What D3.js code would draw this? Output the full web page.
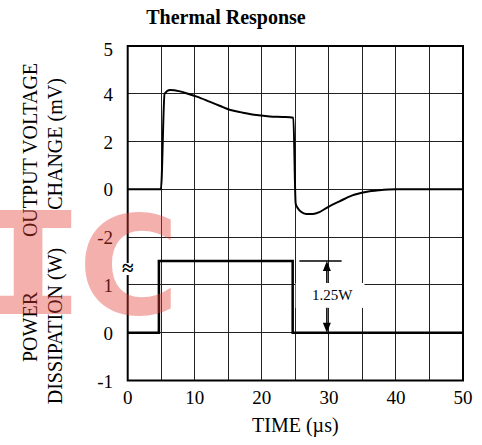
<!DOCTYPE html>
<html>
<head>
<meta charset="utf-8">
<script src="https://cdn.jsdelivr.net/npm/d3@7/dist/d3.min.js"></script>
<style>
  html, body { margin: 0; padding: 0; background: #fff; }
  svg { display: block; }
  text { font-family: "Liberation Serif", "Times New Roman", serif; fill: #000; }
</style>
</head>
<body>
<div id="chart"></div>
<script>
// ---------- data ----------
const title = "Thermal Response";
const xLabel = "TIME (µs)";
const xTickValues = [0, 10, 20, 30, 40, 50];
const voltageTicks = [5, 4, 2, 0, -2];          // mV (upper panel)
const powerTicks = [1, 0, -1];                   // W (lower panel)

// output voltage change (mV) vs time (µs)
const vTime  = [0, 4.95, 5.5, 6.3, 7.8, 9.3, 10.3, 12.2, 13.7, 15.2, 17.2, 19.2, 21.2, 23.1, 24.7,
                25.05, 25.4, 25.9, 26.6, 27.6, 28.6, 29.8, 31.6, 33.5, 35.5, 37.5, 40, 50];
const vValue = [0, 0, 4.0, 4.08, 4.05, 3.97, 3.88, 3.67, 3.5, 3.33, 3.21, 3.11, 3.05, 3.03, 3.0,
                -0.6, -0.8, -0.95, -1.03, -1.03, -0.95, -0.75, -0.5, -0.25, -0.11, -0.04, 0, 0];

// power dissipation (W) vs time (µs)
const pTime  = [0, 4.65, 4.65, 24.6, 24.6, 50];
const pValue = [0, 0, 1.25, 1.25, 0, 0];

const pulseLabel = "1.25W";
const pulseLevel = 1.25;

// ---------- layout ----------
const W = 482, H = 445;
const pLeft = 127.7, pRight = 463, pTop = 46, pBottom = 380.5;
const nRows = 7;

const svg = d3.select("#chart").append("svg").attr("width", W).attr("height", H);

const x = d3.scaleLinear().domain([0, 50]).range([pLeft, pRight]);
const row = d3.scaleLinear().domain([0, nRows]).range([pTop, pBottom]);
const step = row(1) - row(0);
// upper panel: voltage (break between 4 and 5 as printed)
const yV = d3.scaleLinear().domain([-2, 0, 4, 5]).range([row(4), row(3), row(1), row(0)]);
// lower panel: power (axis break above 1 W)
const yP = d3.scaleLinear().domain([-1, 0, 1, 1.25]).range([row(7), row(6), row(5), row(5) - step / 2]);

// ---------- grid ----------
const grid = svg.append("g").attr("stroke", "#222").attr("stroke-width", 1).attr("shape-rendering", "crispEdges");
grid.selectAll("line.v").data(x.ticks(10).filter(d => d > 0 && d < 50)).join("line")
  .attr("x1", d => x(d)).attr("x2", d => x(d)).attr("y1", pTop).attr("y2", pBottom);
grid.selectAll("line.h").data(d3.range(1, nRows)).join("line")
  .attr("x1", pLeft).attr("x2", pRight).attr("y1", d => row(d)).attr("y2", d => row(d));

// ---------- annotation (1.25W) ----------
const ann = svg.append("g");
const boxX0 = x(25.05), boxX1 = x(35.3), boxY0 = yP(1.02), boxY1 = yP(0.52);
ann.append("rect").attr("x", boxX0).attr("y", boxY0).attr("width", boxX1 - boxX0).attr("height", boxY1 - boxY0)
  .attr("fill", "#fff");
ann.append("line").attr("x1", x(25.6)).attr("x2", x(31.9)).attr("y1", yP(pulseLevel)).attr("y2", yP(pulseLevel))
  .attr("stroke", "#000").attr("stroke-width", 1.5);
const ax = x(29.7);
ann.append("line").attr("x1", ax).attr("x2", ax).attr("y1", yP(pulseLevel) + 8).attr("y2", boxY0)
  .attr("stroke", "#000").attr("stroke-width", 1.5);
ann.append("path").attr("d", `M${ax},${yP(pulseLevel)} l-4,10 l8,0 z`).attr("fill", "#000");
ann.append("line").attr("x1", ax).attr("x2", ax).attr("y1", boxY1).attr("y2", yP(0) - 8)
  .attr("stroke", "#000").attr("stroke-width", 1.5);
ann.append("path").attr("d", `M${ax},${yP(0)} l-4,-10 l8,0 z`).attr("fill", "#000");
ann.append("text").attr("x", x(30.5)).attr("y", yP(0.69)).attr("text-anchor", "middle")
  .attr("font-size", 15).text(pulseLabel);

// ---------- curves ----------
const vData = vTime.map((t, i) => [t, vValue[i]]);
const pData = pTime.map((t, i) => [t, pValue[i]]);

svg.append("path").datum(vData)
  .attr("d", d3.line().x(d => x(d[0])).y(d => yV(d[1])).curve(d3.curveMonotoneX))
  .attr("fill", "none").attr("stroke", "#000").attr("stroke-width", 2).attr("stroke-linejoin", "round");

svg.append("path").datum(pData)
  .attr("d", d3.line().x(d => x(d[0])).y(d => yP(d[1])))
  .attr("fill", "none").attr("stroke", "#000").attr("stroke-width", 2.5);

// ---------- frame ----------
svg.append("rect").attr("x", pLeft).attr("y", pTop).attr("width", pRight - pLeft).attr("height", pBottom - pTop)
  .attr("fill", "none").attr("stroke", "#000").attr("stroke-width", 2);

// axis break mark
svg.append("rect").attr("x", pLeft - 5).attr("y", yP(1.25) + 2).attr("width", 10).attr("height", 12).attr("fill", "#fff");
svg.append("text").attr("x", pLeft).attr("y", yP(1.25) + 14).attr("text-anchor", "middle")
  .attr("font-size", 21).attr("font-weight", "bold").text("≈");

// ---------- tick labels ----------
const tickFont = 19;
svg.append("g").selectAll("text").data(xTickValues).join("text")
  .attr("x", d => x(d)).attr("y", 404).attr("text-anchor", "middle").attr("font-size", tickFont).text(d => d);
svg.append("g").selectAll("text").data(voltageTicks).join("text")
  .attr("x", 113).attr("y", (d, i) => yV(d) + (i === 0 ? 10 : 7)).attr("text-anchor", "end")
  .attr("font-size", tickFont).text(d => d);
svg.append("g").selectAll("text").data(powerTicks).join("text")
  .attr("x", 113).attr("y", d => yP(d) + 7).attr("text-anchor", "end")
  .attr("font-size", tickFont).text(d => d);

// ---------- titles ----------
svg.append("text").attr("x", 226).attr("y", 24).attr("text-anchor", "middle")
  .attr("font-size", 20).attr("font-weight", "bold").text(title);
svg.append("text").attr("x", (pLeft + pRight) / 2).attr("y", 432).attr("text-anchor", "middle")
  .attr("font-size", 20).text(xLabel);

const yLabels = [
  { text: "OUTPUT VOLTAGE", x: 37, y: 150 },
  { text: "CHANGE (mV)", x: 62, y: 144 },
  { text: "POWER", x: 37, y: 327 },
  { text: "DISSIPATION (W)", x: 62, y: 326 }
];
svg.append("g").selectAll("text").data(yLabels).join("text")
  .attr("transform", d => `translate(${d.x},${d.y}) rotate(-90)`)
  .attr("text-anchor", "middle").attr("font-size", 20).text(d => d.text);

// ---------- watermark ----------
const wm = svg.append("g").attr("opacity", 0.4).attr("pointer-events", "none");
wm.append("text").attr("transform", "translate(28,314) scale(1.4,1)").attr("text-anchor", "middle")
  .style("font-family", "'DejaVu Sans Mono', monospace").style("fill", "#e63c32")
  .attr("font-weight", "bold").attr("font-size", 142).text("I");
wm.append("text").attr("x", 129).attr("y", 314).attr("text-anchor", "middle")
  .style("font-family", "'DejaVu Sans', sans-serif").style("fill", "#e63c32")
  .attr("font-weight", "bold").attr("font-size", 138).text("C");
</script>
</body>
</html>
